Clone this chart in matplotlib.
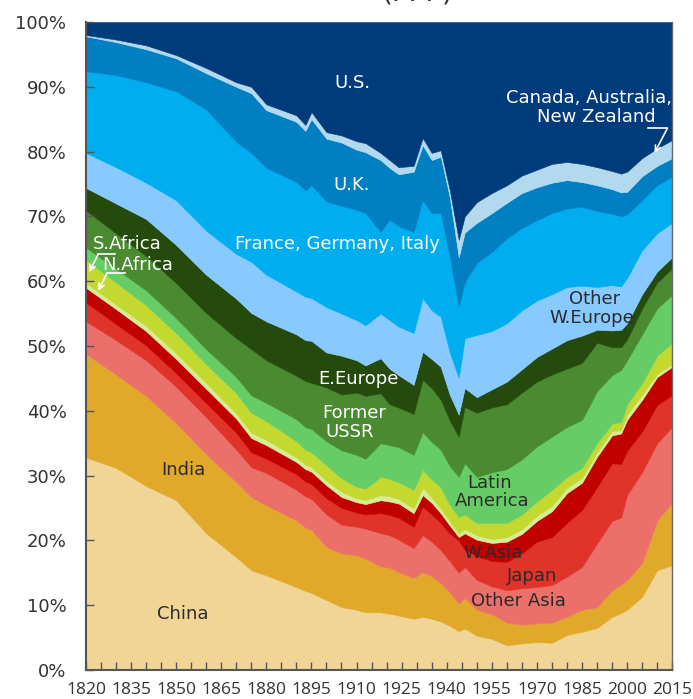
import numpy as np
import matplotlib.pyplot as plt

plt.rcParams['font.family'] = ['DejaVu Sans']

# years
years = [1820, 1830, 1840, 1850, 1860, 1870, 1875, 1880, 1890, 1893, 1895, 1900, 1905,
         1910, 1913, 1918, 1921, 1924, 1929, 1932, 1935, 1938, 1941, 1944, 1946, 1950,
         1955, 1960, 1965, 1970, 1975, 1980, 1985, 1990, 1995, 1998, 2000, 2005, 2010, 2015]

# upper edge of every band (% of world GDP, stacked from the bottom)
china_top = [32.8, 31.2, 28.4, 26.2, 21.1, 17.4, 15.4, 14.6, 12.8, 12.2, 11.9, 10.8, 9.7, 9.3, 8.9, 8.9, 8.7, 8.4, 7.9, 8.2,
             7.9, 7.5, 6.8, 6.0, 6.4, 5.3, 4.8, 3.8, 4.1, 4.3, 4.2, 5.4, 5.9, 6.5, 8.2, 8.8, 9.3, 11.3, 15.4, 16.2]
india_top = [48.8, 45.6, 42.3, 38.1, 33.3, 29.0, 26.7, 25.4, 23.1, 22.0, 21.6, 19.0, 18.0, 17.7, 17.2, 16.0, 15.8, 15.1, 14.2, 15.1,
             14.5, 13.4, 12.0, 10.3, 11.1, 9.3, 8.6, 7.3, 7.0, 7.2, 7.3, 8.2, 9.3, 9.7, 12.3, 13.2, 13.9, 16.5, 23.1, 25.8]
oasia_top = [53.8, 50.9, 47.8, 43.7, 39.0, 34.0, 31.3, 30.4, 27.8, 26.8, 26.4, 24.0, 22.4, 22.1, 21.8, 21.1, 20.8, 20.1, 18.8, 20.8,
             19.8, 18.5, 16.8, 15.0, 15.9, 13.9, 12.9, 12.3, 12.6, 12.8, 13.1, 14.4, 15.9, 19.5, 23.0, 23.5, 27.0, 30.5, 35.0, 37.5]
japan_top = [56.7, 53.4, 50.1, 45.8, 41.2, 36.6, 33.6, 32.6, 30.2, 29.1, 28.7, 26.5, 25.0, 24.3, 24.0, 24.2, 23.9, 23.5, 22.1, 25.2,
             24.0, 22.7, 21.0, 20.0, 18.5, 17.6, 16.8, 16.7, 18.0, 19.8, 20.5, 22.7, 24.7, 28.2, 31.9, 31.8, 33.8, 36.8, 40.9, 42.4]
wasia_top = [59.0, 55.7, 52.3, 48.0, 43.4, 38.8, 35.8, 34.7, 32.1, 31.0, 30.6, 28.5, 26.7, 25.9, 25.6, 26.2, 26.0, 25.7, 24.2, 27.0,
             25.8, 24.2, 22.3, 20.5, 21.1, 20.1, 19.6, 19.8, 21.0, 23.0, 24.5, 27.3, 28.9, 32.9, 36.2, 36.5, 38.6, 41.7, 45.2, 46.8]
nafrica_top = [59.7, 56.4, 53.1, 48.9, 44.3, 39.6, 36.6, 35.5, 32.8, 31.7, 31.3, 29.2, 27.5, 26.5, 26.2, 27.0, 26.8, 26.4, 24.9, 28.1,
               26.6, 24.9, 23.0, 21.1, 21.7, 20.8, 20.2, 20.5, 21.7, 23.8, 25.3, 28.1, 29.6, 33.6, 36.9, 37.0, 39.4, 42.5, 45.7, 47.2]
safrica_top = [63.3, 59.8, 56.3, 52.0, 47.2, 42.7, 39.7, 38.4, 35.3, 34.0, 33.6, 31.6, 29.6, 28.3, 28.0, 29.8, 29.5, 29.0, 27.8, 30.9,
               29.4, 28.2, 25.5, 23.6, 24.0, 22.7, 22.7, 22.7, 24.0, 26.0, 27.8, 29.8, 31.2, 35.0, 38.0, 38.3, 41.0, 44.3, 48.5, 50.5]
latam_top = [65.2, 61.9, 58.6, 54.3, 49.5, 45.2, 42.4, 41.2, 38.7, 37.5, 37.2, 35.3, 33.9, 33.2, 32.6, 35.0, 34.7, 34.4, 33.2, 36.7,
             35.2, 34.0, 31.5, 29.8, 31.9, 29.8, 30.5, 31.0, 32.5, 34.5, 36.0, 37.5, 38.6, 43.0, 45.5, 46.3, 47.8, 51.8, 55.8, 57.9]
ussr_top = [70.9, 67.4, 63.9, 59.7, 55.1, 51.2, 49.5, 47.8, 45.4, 44.6, 44.3, 43.6, 42.5, 42.8, 42.3, 42.7, 41.0, 40.5, 39.5, 44.8,
            43.5, 41.7, 38.5, 36.0, 40.6, 39.7, 40.5, 41.0, 42.8, 44.5, 45.6, 46.5, 47.4, 50.5, 49.8, 49.8, 51.0, 55.8, 59.8, 62.0]
eeurope_top = [74.4, 72.0, 69.6, 65.6, 61.0, 57.3, 55.1, 53.8, 51.8, 50.9, 50.8, 49.0, 48.5, 47.8, 47.0, 48.1, 46.5, 45.5, 44.0, 49.1,
               48.0, 46.8, 42.5, 39.4, 43.5, 42.1, 43.3, 44.5, 46.4, 48.3, 49.6, 50.9, 51.6, 52.5, 52.4, 52.5, 53.5, 58.0, 61.5, 63.7]
oweurope_top = [79.8, 77.6, 75.2, 72.5, 67.8, 64.2, 63.0, 61.0, 58.4, 57.6, 57.4, 56.0, 55.0, 54.0, 53.2, 55.0, 54.0, 53.0, 52.0, 57.4,
                55.5, 54.5, 49.0, 45.1, 51.2, 51.7, 52.3, 53.5, 55.5, 57.0, 58.0, 59.1, 59.3, 59.1, 59.4, 59.2, 60.5, 64.8, 67.4, 69.0]
fgi_top = [92.4, 91.8, 90.7, 89.3, 86.5, 81.5, 79.8, 77.5, 75.3, 74.0, 74.8, 72.3, 71.6, 71.0, 70.5, 67.6, 69.5, 68.5, 67.6, 72.5,
           70.5, 70.5, 63.7, 56.0, 59.8, 62.8, 64.5, 66.6, 68.2, 69.4, 70.5, 71.2, 71.5, 70.8, 70.4, 70.0, 70.3, 72.5, 74.8, 76.1]
uk_top = [97.8, 96.9, 95.8, 94.4, 92.1, 90.0, 89.0, 86.4, 84.6, 83.2, 85.0, 82.0, 81.4, 80.3, 79.9, 78.7, 77.5, 76.5, 76.9, 81.0,
          78.7, 79.2, 73.0, 63.7, 67.5, 69.0, 70.5, 72.1, 73.6, 74.5, 75.2, 75.6, 75.3, 74.8, 74.2, 73.7, 73.8, 76.2, 77.8, 79.0]
canaus_top = [98.0, 97.3, 96.4, 94.9, 92.9, 90.7, 90.0, 87.3, 85.6, 84.1, 86.1, 83.0, 82.5, 81.6, 81.3, 79.8, 78.7, 77.6, 77.8, 82.1,
              79.8, 80.2, 74.1, 66.4, 70.0, 72.2, 73.6, 74.8, 76.3, 77.2, 78.1, 78.4, 78.1, 77.6, 77.0, 76.6, 76.9, 79.0, 80.5, 81.8]
us_top = [100.0] * len(years)

bands = [
    (china_top, '#f0d596'),
    (india_top, '#e0a92a'),
    (oasia_top, '#ec706a'),
    (japan_top, '#e0342a'),
    (wasia_top, '#c10000'),
    (nafrica_top, '#d8eb95'),
    (safrica_top, '#c4d930'),
    (latam_top, '#66cc66'),
    (ussr_top, '#4a8a30'),
    (eeurope_top, '#244a0c'),
    (oweurope_top, '#88c9ff'),
    (fgi_top, '#00aeef'),
    (uk_top, '#0080c2'),
    (canaus_top, '#b3d9ef'),
    (us_top, '#003c7c'),
]

fig = plt.figure(figsize=(6.93, 6.99), dpi=100)
ax = fig.add_axes([0.124, 0.0415, 0.846, 0.927])

lower = np.zeros(len(years))
for top, col in bands:
    ax.fill_between(years, lower, top, facecolor=col, edgecolor=col, linewidth=0.4)
    lower = np.array(top)

ax.set_xlim(1820, 2015)
ax.set_ylim(0, 100)

ax.set_xticks(range(1820, 2016, 15))
ax.set_xticks(range(1820, 2016, 5), minor=True)
ax.set_yticks(range(0, 101, 10))
ax.set_yticklabels([f'{v}%' for v in range(0, 101, 10)])
ax.tick_params(which='both', direction='in', length=6, width=1, color='#555555')
ax.tick_params(axis='x', which='major', labelsize=12.5, pad=9, labelcolor='#333333')
ax.tick_params(axis='y', labelsize=13, pad=14, labelcolor='#333333')
for lab in ax.get_xticklabels():
    lab.set_family('Open Sans')

for s in ['left', 'bottom']:
    ax.spines[s].set_color('#555555')
    ax.spines[s].set_linewidth(1.5)
ax.spines['right'].set_color('#666666')
ax.spines['right'].set_linewidth(1)
ax.spines['top'].set_visible(False)

# title is cut off at the top of the image
fig.text(0.602, 1.0, '(PPP)', ha='center', va='baseline', fontsize=20, color='#333333')

white = 'white'
dark = '#2b2b2b'
fs = 13
ax.text(1908.5, 90.6, 'U.S.', color=white, fontsize=fs, ha='center', va='center')
ax.text(1908.5, 74.8, 'U.K.', color=white, fontsize=fs, ha='center', va='center')
ax.text(1903.5, 65.7, 'France, Germany, Italy', color=white, fontsize=fs, ha='center', va='center')
ax.text(2014.8, 88.3, 'Canada, Australia,', color=white, fontsize=fs, ha='right', va='center')
ax.text(2009.5, 85.3, 'New Zealand', color=white, fontsize=fs, ha='right', va='center')
ax.text(1822.4, 65.7, 'S.Africa', color=white, fontsize=fs, ha='left', va='center')
ax.text(1825.4, 62.5, 'N.Africa', color=white, fontsize=fs, ha='left', va='center')
ax.text(1989.2, 57.3, 'Other', color=dark, fontsize=fs, ha='center', va='center')
ax.text(1988.2, 54.3, 'W.Europe', color=dark, fontsize=fs, ha='center', va='center')
ax.text(1910.5, 44.9, 'E.Europe', color=white, fontsize=fs, ha='center', va='center')
ax.text(1909.2, 39.7, 'Former', color=white, fontsize=fs, ha='center', va='center')
ax.text(1907.8, 36.7, 'USSR', color=white, fontsize=fs, ha='center', va='center')
ax.text(1954.3, 28.9, 'Latin', color=dark, fontsize=fs, ha='center', va='center')
ax.text(1955.0, 26.1, 'America', color=dark, fontsize=fs, ha='center', va='center')
ax.text(1955.3, 18.1, 'W.Asia', color=dark, fontsize=fs, ha='center', va='center')
ax.text(1968.3, 14.5, 'Japan', color=dark, fontsize=fs, ha='center', va='center')
ax.text(1964.0, 10.6, 'Other Asia', color=dark, fontsize=fs, ha='center', va='center')
ax.text(1852.3, 30.9, 'India', color=dark, fontsize=fs, ha='center', va='center')
ax.text(1852.3, 8.6, 'China', color=dark, fontsize=fs, ha='center', va='center')

# leader lines with arrows
arrow = dict(arrowstyle='->', color=white, lw=1.2, shrinkA=0, shrinkB=0)
ax.plot([1824.1, 1829.8], [64.2, 64.2], color=white, lw=1.2)
ax.annotate('', xy=(1821.1, 61.4), xytext=(1824.1, 64.2), arrowprops=arrow)
ax.plot([1827.1, 1833.1], [61.3, 61.3], color=white, lw=1.2)
ax.annotate('', xy=(1824.1, 58.5), xytext=(1827.1, 61.3), arrowprops=arrow)
ax.plot([2006.8, 2013.4], [83.6, 83.6], color=white, lw=1.2)
ax.annotate('', xy=(2009.1, 79.8), xytext=(2013.4, 83.6), arrowprops=arrow)

fig.savefig('out.png', dpi=100)
